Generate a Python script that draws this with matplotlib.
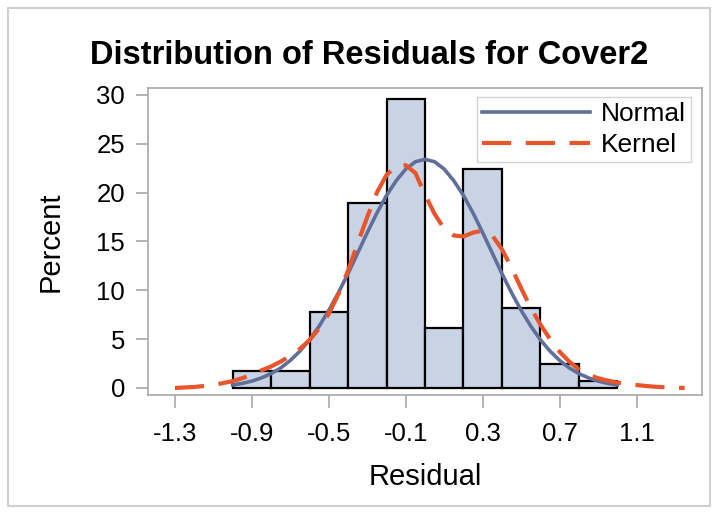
import numpy as np
import matplotlib.pyplot as plt
from matplotlib.patches import Rectangle

# histogram bins (edges) and percent per bin
bin_edges = [-1.0, -0.8, -0.6, -0.4, -0.2, 0.0, 0.2, 0.4, 0.6, 0.8, 1.0]
bin_pct = [1.7, 1.7, 7.8, 18.9, 29.6, 6.1, 22.4, 8.2, 2.5, 0.7]

# fitted normal curve
normal_x = [-1.0, -0.95, -0.9, -0.85, -0.8, -0.75, -0.7, -0.65, -0.6, -0.55,
            -0.5, -0.45, -0.4, -0.35, -0.3, -0.25, -0.2, -0.15, -0.1, -0.05,
            0.0, 0.05, 0.1, 0.15, 0.2, 0.25, 0.3, 0.35, 0.4, 0.45,
            0.5, 0.55, 0.6, 0.65, 0.7, 0.75, 0.8, 0.85, 0.9, 0.95, 1.0]
normal_y = [0.31, 0.47, 0.70, 1.03, 1.47, 2.05, 2.82, 3.77, 4.93, 6.33,
            7.94, 9.75, 11.7, 13.8, 15.9, 17.9, 19.7, 21.2, 22.4, 23.15,
            23.4, 23.15, 22.4, 21.2, 19.7, 17.9, 15.9, 13.8, 11.7, 9.75,
            7.94, 6.33, 4.93, 3.77, 2.82, 2.05, 1.47, 1.03, 0.70, 0.47, 0.31]

# kernel density curve
kernel_x = [-1.3, -1.25, -1.2, -1.15, -1.1, -1.05, -1.0, -0.95, -0.9, -0.85,
            -0.8, -0.75, -0.7, -0.65, -0.6, -0.55, -0.5, -0.45, -0.4, -0.35,
            -0.3, -0.25, -0.2, -0.15, -0.1, -0.05, 0.0, 0.05, 0.1, 0.15,
            0.2, 0.25, 0.3, 0.35, 0.4, 0.45, 0.5, 0.55, 0.6, 0.65,
            0.7, 0.75, 0.8, 0.85, 0.9, 0.95, 1.0, 1.05, 1.1, 1.15,
            1.2, 1.25, 1.3, 1.35]
kernel_y = [0.0, 0.05, 0.1, 0.2, 0.3, 0.5, 0.7, 1.0, 1.35, 1.8,
            2.2, 2.7, 3.3, 4.0, 4.9, 6.1, 7.6, 9.6, 12.0, 14.8,
            17.5, 20.0, 21.8, 22.7, 22.8, 22.0, 19.8, 17.8, 16.3, 15.6,
            15.5, 15.9, 16.1, 15.6, 14.2, 12.3, 10.2, 8.2, 6.5, 5.0,
            3.7, 2.7, 1.9, 1.35, 1.0, 0.75, 0.55, 0.4, 0.3, 0.2,
            0.12, 0.07, 0.03, 0.0]

x_ticks = [-1.3, -0.9, -0.5, -0.1, 0.3, 0.7, 1.1]
y_ticks = [0, 5, 10, 15, 20, 25, 30]

plt.rcParams['font.family'] = ['Liberation Sans', 'DejaVu Sans']

fig = plt.figure(figsize=(7.16, 5.16), dpi=100)
ax = fig.add_axes([0.2067, 0.2345, 0.7737, 0.595])

# outer light frame
fig.patches.append(Rectangle((0.011, 0.02), 0.98, 0.965, transform=fig.transFigure,
                             fill=False, edgecolor='#d0d0d0', linewidth=1.5))

widths = np.diff(bin_edges)
ax.bar(bin_edges[:-1], bin_pct, width=widths, align='edge',
       color='#c8d4e4', edgecolor='black', linewidth=1.6, zorder=2)

ax.plot(normal_x, normal_y, color='#5f6f9a', linewidth=2.6, label='Normal', zorder=3)
ax.plot(kernel_x, kernel_y, color='#e8552a', linewidth=3.0, dashes=(7, 3.5),
        label='Kernel', zorder=4)

ax.set_xlim(-1.44, 1.44)
ax.set_ylim(-0.72, 30.7)
ax.set_xticks(x_ticks)
ax.set_xticklabels([f'{t:.1f}' for t in x_ticks])
ax.set_yticks(y_ticks)

for s in ax.spines.values():
    s.set_color('#a8a8a8')
    s.set_linewidth(1.2)
ax.tick_params(axis='both', colors='#a8a8a8', labelcolor='black',
               labelsize=18.5, length=9, width=1.2)
ax.tick_params(axis='x', pad=10.5)
ax.tick_params(axis='y', pad=7.5)

ax.set_xlabel('Residual', fontsize=21)
ax.set_ylabel('Percent', fontsize=21)
ax.xaxis.set_label_coords(0.5, -0.22)
ax.yaxis.set_label_coords(-0.15, 0.5)

fig.text(0.515, 0.893, 'Distribution of Residuals for Cover2', ha='center',
         va='center', fontsize=23.5, fontweight='bold')

leg = ax.legend(loc='upper right', bbox_to_anchor=(0.98, 0.97), fontsize=19,
                handlelength=4.1, frameon=True, fancybox=False,
                borderpad=0.2, labelspacing=0.25, handletextpad=0.4,
                borderaxespad=0.0)
leg.get_frame().set_edgecolor('#c8c8c8')
leg.get_frame().set_linewidth(1.0)

fig.savefig('out.png', dpi=100)
